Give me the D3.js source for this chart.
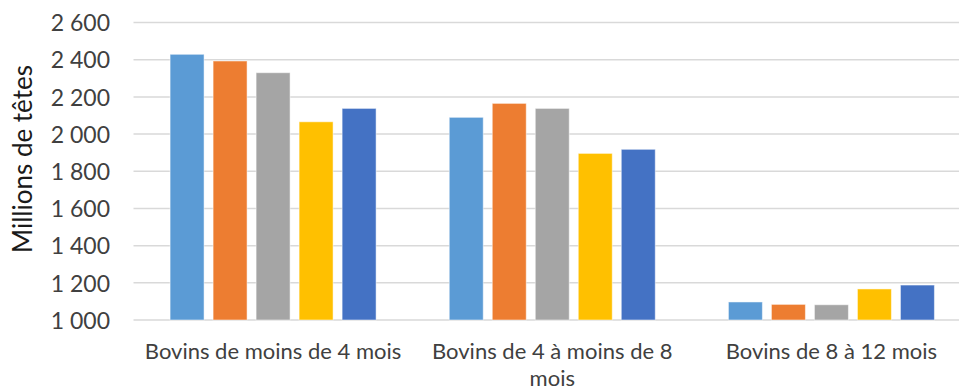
<!DOCTYPE html>
<html>
<head>
<meta charset="utf-8">
<script src="https://cdn.jsdelivr.net/npm/d3@7"></script>
<style>
  html, body { margin: 0; padding: 0; background: #fff; }
  svg { display: block; }
  text { font-family: "Lato", "Open Sans", sans-serif; }
</style>
</head>
<body>
<svg id="chart" width="959" height="390"></svg>
<script>
const categories = ["Bovins de moins de 4 mois", "Bovins de 4 à moins de 8 mois", "Bovins de 8 à 12 mois"];
const seriesNames = ["S1", "S2", "S3", "S4", "S5"];
const seriesColors = ["#5B9BD5", "#ED7D31", "#A5A5A5", "#FFC000", "#4472C4"];
const s1 = [2429, 2090, 1097];
const s2 = [2393, 2165, 1084];
const s3 = [2330, 2138, 1082];
const s4 = [2066, 1896, 1167];
const s5 = [2138, 1918, 1188];
const seriesValues = [s1, s2, s3, s4, s5];
const yTicks = [1000, 1200, 1400, 1600, 1800, 2000, 2200, 2400, 2600];
const yTitle = "Millions de têtes";

const svg = d3.select("#chart");
const mLeft = 133.5, mRight = 971, mTop = 22.5, mBottom = 320;

const x0 = d3.scaleBand().domain(categories).range([mLeft, mRight]).paddingInner(0).paddingOuter(0);
const y = d3.scaleLinear().domain([1000, 2600]).range([mBottom, mTop]);
const x1 = d3.scaleBand().domain(seriesNames).range([0, 206]).paddingInner(0.21).paddingOuter(0);

const fr = d3.formatLocale({decimal: ",", thousands: "\u00a0", grouping: [3], currency: ["", " €"]});
const fmt = fr.format(",d");

// gridlines
svg.append("g").selectAll("line").data(yTicks).join("line")
  .attr("x1", mLeft).attr("x2", mRight)
  .attr("y1", d => y(d)).attr("y2", d => y(d))
  .attr("stroke", "#d9d9d9").attr("stroke-width", 1.5);

// y axis labels
const yAxis = d3.axisLeft(y).tickValues(yTicks).tickFormat(fmt).tickSize(0).tickPadding(0);
const ga = svg.append("g").attr("transform", `translate(110,0)`).call(yAxis);
ga.select(".domain").remove();
ga.selectAll("text").attr("font-size", 23).attr("fill", "#404040")
  .attr("font-family", "Lato, sans-serif").attr("dy", "0.36em");

// bars
const groups = svg.append("g").selectAll("g").data(categories).join("g")
  .attr("transform", c => `translate(${x0(c) + x0.bandwidth() / 2 - 103},0)`);
groups.selectAll("rect").data((c, i) => seriesNames.map((s, j) => ({s, v: seriesValues[j][i], j})))
  .join("rect")
  .attr("x", d => x1(d.s))
  .attr("width", x1.bandwidth())
  .attr("y", d => y(d.v))
  .attr("height", d => y(1000) - y(d.v))
  .attr("fill", d => seriesColors[d.j])
  .attr("stroke", "#ffffff").attr("stroke-opacity", 0.5).attr("stroke-width", 1);

// x labels with wrapping
const xl = svg.append("g");
categories.forEach(c => {
  const cx = x0(c) + x0.bandwidth() / 2;
  const t = xl.append("text").attr("text-anchor", "middle")
    .attr("font-size", 22).attr("fill", "#404040")
    .attr("x", cx).attr("y", 359);
  const words = c.split(" ");
  let line = [];
  let ts = t.append("tspan").attr("x", cx).attr("dy", 0);
  words.forEach(w => {
    line.push(w);
    ts.text(line.join(" "));
    if (ts.node().getComputedTextLength() > 270 && line.length > 1) {
      line.pop();
      ts.text(line.join(" "));
      line = [w];
      ts = t.append("tspan").attr("x", cx).attr("dy", 26.5).text(w);
    }
  });
});

// y title
svg.append("text").attr("transform", "translate(32,159) rotate(-90)")
  .attr("text-anchor", "middle").attr("font-size", 26).attr("fill", "#1a1a1a")
  .text(yTitle);
</script>
</body>
</html>
